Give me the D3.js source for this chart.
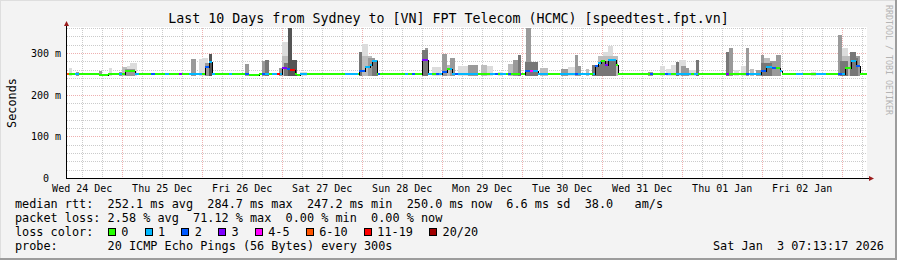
<!DOCTYPE html>
<html>
<head>
<meta charset="utf-8">
<script src="https://cdn.jsdelivr.net/npm/d3@7"></script>
<style>
  body { margin: 0; background: #f3f3f3; }
  svg text { font-family: 'DejaVu Sans Mono', monospace; white-space: pre; }
</style>
</head>
<body>
<script>
// time is hours since graph start (Wed 24 Dec 07:35 UTC), 10 days wide
const startTime = Date.UTC(2025, 11, 24, 7, 35);
const spanHours = 240;
const baselineMs = 250;

// [from h, to h, median ms] where median is off the usual ~250 ms
const medianSegs = [
  [9.6, 12.3, 247], [17.4, 20.4, 257], [41.4, 42.6, 266], [42.6, 43.5, 278],
  [54.6, 57.6, 248], [64.5, 66, 264], [66, 66.9, 262], [66.9, 68.4, 259],
  [69, 69.9, 248], [87.6, 89.4, 256], [89.4, 90.9, 266], [90.9, 91.5, 272],
  [91.5, 93, 280], [106.5, 108.3, 283], [112.5, 114, 254], [114, 115.5, 262],
  [137.4, 141.3, 256], [158.4, 159.3, 270], [159.3, 160.2, 275], [160.2, 161.4, 280],
  [161.4, 162.3, 272], [162.3, 164.7, 283], [164.7, 165.3, 272],
  [208.2, 209.7, 258], [209.7, 211.5, 266], [211.5, 213.9, 264], [213.9, 214.5, 258],
  [233.4, 235.2, 264], [235.2, 236.7, 280], [236.7, 237.9, 270]
];

// [from h, to h, lost pings of 20]
const lossSegs = [
  [0, 0.6, 8], [2.4, 3.6, 1], [15.6, 16.5, 1], [20.4, 21.6, 1], [25.2, 26.4, 2],
  [29.4, 30.6, 1], [33.6, 34.5, 3], [36.6, 40.5, 1], [41.4, 42.6, 2], [42.6, 44.4, 1],
  [48.6, 49.5, 1], [53.4, 54.6, 2], [58.5, 59.4, 2], [59.4, 60.6, 1], [61.5, 63, 1],
  [63, 63.9, 14], [63.9, 64.5, 1], [64.5, 66, 3], [66, 66.9, 2], [66.9, 68.4, 14],
  [69.9, 72, 1], [83.4, 87.3, 1], [87.6, 89.4, 2], [89.4, 93, 1], [93.3, 93.9, 2],
  [101.4, 102.3, 1], [103.5, 104.4, 2], [106.5, 108.3, 3], [108.3, 109.5, 1],
  [110.7, 111.6, 2], [111.6, 112.5, 1], [112.5, 114, 2], [114.9, 116.4, 1],
  [116.4, 117.3, 2], [117.3, 123.3, 1], [126.9, 128.4, 1], [128.4, 129.3, 2],
  [129.9, 131.7, 1], [132.3, 133.2, 2], [135.9, 136.2, 3], [137.4, 138.9, 2],
  [138.9, 139.8, 5], [139.8, 144.3, 1], [147.9, 152.4, 1], [152.4, 153.3, 2],
  [153.3, 156.9, 1], [157.8, 158.4, 1], [158.4, 159.3, 2], [159.3, 160.2, 1],
  [161.4, 162.3, 3], [162.3, 164.7, 1], [174.9, 175.8, 2], [179.4, 180.3, 2],
  [180.3, 181.2, 1], [182.7, 187.2, 1], [188.1, 189.3, 1], [197.7, 198.6, 3],
  [203.7, 204.6, 2], [204.6, 208.2, 1], [208.2, 209.7, 2], [209.7, 211.5, 1],
  [211.5, 212.7, 2], [213.9, 214.5, 1], [218.7, 220.8, 1], [224.7, 227.7, 1],
  [231.3, 232.5, 2], [232.5, 233.4, 1], [235.2, 236.7, 1], [236.7, 237.9, 2]
];

// smoke: [from h, to h, top ms, shade 1 light .. 5 dark]
const smoke = [
  [0.6, 1.5, 264, 1], [2.7, 3.6, 254, 3], [9.6, 10.5, 258, 3], [12.6, 13.5, 264, 1],
  [15.6, 16.5, 254, 3], [16.5, 18, 267, 2], [18, 18.9, 270, 1], [18.9, 21, 276, 1],
  [17.4, 20.4, 262, 3], [37.2, 38.7, 285, 3], [39.6, 40.5, 285, 1], [40.5, 42.3, 287, 1],
  [41.4, 43.5, 277, 3], [42.6, 43.5, 298, 5], [53.4, 54.6, 273, 3], [58.5, 59.7, 280, 3],
  [59.4, 60.6, 283, 4], [63.6, 64.5, 264, 3], [64.5, 66.3, 326, 1], [64.5, 66.3, 292, 2],
  [65.1, 67.5, 277, 4], [66.3, 67.5, 359, 5], [67.5, 69, 283, 5], [69.9, 72, 254, 1],
  [87.6, 88.5, 302, 4], [88.5, 90.3, 322, 1], [88.5, 91.5, 292, 2], [90.3, 92.4, 287, 3],
  [91.5, 93.3, 284, 4], [106.5, 108.3, 307, 4], [107.4, 108.3, 312, 3], [109.5, 112.2, 267, 1],
  [112.5, 114, 298, 3], [114, 114.9, 272, 2], [114.9, 116.4, 287, 3], [117.3, 120.9, 270, 1],
  [120.3, 123.3, 271, 3], [124.2, 126, 271, 2], [126, 127.8, 268, 1], [129.3, 130.8, 254, 1],
  [132.3, 133.8, 274, 2], [133.8, 135.3, 283, 3], [135.3, 136.2, 295, 4], [137.7, 139.2, 360, 3],
  [137.4, 141.3, 278, 4], [141.9, 144.3, 264, 2], [148.2, 150.3, 262, 3], [150.3, 152.4, 267, 1],
  [152.4, 153.3, 295, 3], [153.3, 154.2, 270, 3], [155.7, 156.6, 262, 2], [157.5, 159.9, 272, 4],
  [160.8, 162.3, 302, 1], [162.3, 163.8, 316, 1], [159.3, 165.3, 292, 2], [159.9, 164.7, 282, 4],
  [174.3, 175.8, 254, 3], [177.9, 179.4, 270, 1], [179.7, 181.2, 262, 1], [181.2, 182.7, 271, 1],
  [182.7, 183.6, 278, 4], [183.6, 185.7, 283, 1], [184.2, 185.7, 270, 3], [185.7, 186.6, 264, 3],
  [186.6, 188.7, 260, 1], [188.7, 189.6, 283, 4], [197.7, 198.6, 302, 4], [198.6, 199.8, 311, 3],
  [200.1, 201.6, 260, 1], [202.2, 203.7, 270, 1], [203.7, 204.6, 311, 3], [204.9, 206.1, 262, 2],
  [206.7, 208.2, 260, 3], [208.2, 209.1, 295, 3], [209.1, 210.9, 289, 2], [208.2, 211.5, 277, 4],
  [210.9, 212.7, 282, 3], [212.7, 214.2, 295, 3], [223.2, 224.7, 254, 1], [231.3, 232.5, 343, 3],
  [232.5, 234.3, 313, 1], [231.3, 234.9, 292, 2], [231.9, 234.3, 280, 4], [234.9, 236.7, 302, 4],
  [236.7, 237.9, 292, 3], [235.5, 237.3, 287, 4]
];
const smokeFloor = 245;
const shadeColors = ['#dcdcdc', '#bdbdbd', '#9a9a9a', '#777777', '#555555'];

const lossLabels = ['0', '1', '2', '3', '4-5', '6-10', '11-19', '20/20'];
const lossUpper = [0, 1, 2, 3, 5, 10, 19, 20];
const lossColors = ['#26ff00', '#00b8ff', '#0059ff', '#7e00ff', '#ff00ff', '#ff5500', '#ff0000', '#a10000'];

const yTicks = [0, 100, 200, 300];
const legendLines = [
  'median rtt:  252.1 ms avg  284.7 ms max  247.2 ms min  250.0 ms now  6.6 ms sd  38.0   am/s',
  'packet loss: 2.58 % avg  71.12 % max  0.00 % min  0.00 % now',
  'loss color:',
  'probe:       20 ICMP Echo Pings (56 Bytes) every 300s'
];
const stamp = 'Sat Jan  3 07:13:17 2026';
const title = 'Last 10 Days from Sydney to [VN] FPT Telecom (HCMC) [speedtest.fpt.vn]';

const width = 897, height = 260;
const plotL = 67, plotR = 867, plotT = 28, plotB = 178;
const legendFont = 11.84, charW = legendFont * 0.602;

const svg = d3.select('body').append('svg')
  .attr('width', width)
  .attr('height', height);

const t = h => new Date(startTime + h * 3600e3);
const x = d3.scaleUtc().domain([t(0), t(spanHours)]).range([plotL, plotR]);
const y = d3.scaleLinear().domain([0, 360]).range([plotB, plotT]);

// frame
svg.append('rect').attr('width', width).attr('height', height).attr('fill', '#f3f3f3');
svg.append('path').attr('d', `M0,0.5H${width}M0.5,0V${height}`).attr('stroke', '#dedede').attr('stroke-width', 1);
svg.append('path').attr('d', `M0,${height - 1}H${width}M${width - 1},0V${height}`).attr('stroke', '#9c9c9c').attr('stroke-width', 2);

svg.append('rect')
  .attr('x', plotL).attr('y', plotT - 1)
  .attr('width', plotR - plotL).attr('height', plotB - plotT + 1)
  .attr('fill', '#fff');

// grid
const grid = svg.append('g').attr('shape-rendering', 'crispEdges').attr('stroke-dasharray', '1,1');
const hourTicks = x.ticks(d3.utcHour.every(6));
grid.selectAll('.vg').data(hourTicks).join('line')
  .attr('x1', d => Math.round(x(d)) + 0.5).attr('x2', d => Math.round(x(d)) + 0.5)
  .attr('y1', plotT).attr('y2', plotB)
  .attr('stroke', d => d.getUTCHours() === 0 ? '#eeb0b0' : '#cbcbcb');
grid.selectAll('.hg').data(d3.range(20, 361, 20)).join('line')
  .attr('x1', plotL).attr('x2', plotR)
  .attr('y1', d => Math.round(y(d)) + 0.5).attr('y2', d => Math.round(y(d)) + 0.5)
  .attr('stroke', d => d % 100 === 0 ? '#eeb0b0' : '#cbcbcb');

// smoke
svg.append('g').attr('shape-rendering', 'crispEdges')
  .selectAll('rect')
  .data(smoke.slice().sort((a, b) => a[3] - b[3]))
  .join('rect')
  .attr('x', d => x(t(d[0])))
  .attr('width', d => Math.max(1, x(t(d[1])) - x(t(d[0]))))
  .attr('y', d => y(d[2]))
  .attr('height', d => y(smokeFloor) - y(d[2]))
  .attr('fill', d => shadeColors[d[3] - 1]);

// median pieces
const cuts = Array.from(new Set([0, spanHours, ...medianSegs.flatMap(d => [d[0], d[1]]), ...lossSegs.flatMap(d => [d[0], d[1]])])).sort((a, b) => a - b);
const pieces = [];
for (let i = 0; i < cuts.length - 1; i++) {
  const a = cuts[i], b = cuts[i + 1], mid = (a + b) / 2;
  const m = medianSegs.find(d => d[0] <= mid && mid < d[1]);
  const l = lossSegs.find(d => d[0] <= mid && mid < d[1]);
  const lost = l ? l[2] : 0;
  pieces.push({ a, b, ms: m ? m[2] : baselineMs, bucket: lossUpper.findIndex(u => lost <= u) });
}

const stepPts = pieces.map(p => [p.a, p.ms]).concat([[spanHours, pieces[pieces.length - 1].ms]]);
svg.append('path')
  .attr('d', d3.line().x(d => x(t(d[0]))).y(d => Math.round(y(d[1]))).curve(d3.curveStepAfter)(stepPts))
  .attr('fill', 'none').attr('stroke', '#000').attr('stroke-width', 1)
  .attr('shape-rendering', 'crispEdges');

svg.append('g').attr('shape-rendering', 'crispEdges')
  .selectAll('line').data(pieces).join('line')
  .attr('x1', d => x(t(d.a))).attr('x2', d => x(t(d.b)))
  .attr('y1', d => Math.round(y(d.ms))).attr('y2', d => Math.round(y(d.ms)))
  .attr('stroke', d => lossColors[d.bucket]).attr('stroke-width', 2);

// axes
svg.append('path')
  .attr('d', `M${plotL - 0.5},${plotB + 0.5}H${plotR + 4}M${plotL - 0.5},${plotB + 0.5}V${plotT - 2}`)
  .attr('stroke', '#000').attr('fill', 'none').attr('shape-rendering', 'crispEdges');
svg.append('path').attr('d', `M${plotL - 0.5},${plotT - 7}L${plotL - 3},${plotT - 2}L${plotL + 2},${plotT - 2}Z`).attr('fill', '#9b1c1c');
svg.append('path').attr('d', `M${plotR + 7},${plotB + 0.5}L${plotR + 2},${plotB - 2}L${plotR + 2},${plotB + 3}Z`).attr('fill', '#9b1c1c');

const noons = d3.utcDay.range(d3.utcDay.floor(t(0)), t(spanHours)).map(d => d3.utcHour.offset(d, 12)).filter(d => d >= t(0) && d <= t(spanHours));
const xAxis = svg.append('g').attr('transform', `translate(0,${plotB})`)
  .call(d3.axisBottom(x).tickValues(noons).tickFormat(d3.utcFormat('%a %d %b')).tickSize(0));
xAxis.select('.domain').remove();
xAxis.selectAll('text').attr('y', 13.5).attr('dy', null).attr('font-size', 10).attr('fill', '#000');

const yAxis = svg.append('g').attr('transform', 'translate(61,0)')
  .call(d3.axisLeft(y).tickValues(yTicks).tickFormat(d => d === 0 ? '0  ' : d + ' m').tickSize(0).tickPadding(0));
yAxis.select('.domain').remove();
yAxis.selectAll('text').attr('x', 0).attr('dy', '0.35em').attr('font-size', 10).attr('fill', '#000');

// titles
svg.append('text').attr('x', 448.5).attr('y', 22.5).attr('text-anchor', 'middle')
  .attr('font-size', 13.3).text(title);
svg.append('text').attr('transform', 'translate(16,103) rotate(-90)').attr('text-anchor', 'middle')
  .attr('font-size', legendFont).text('Seconds');
svg.append('text').attr('transform', 'translate(885.5,60) rotate(90)').attr('text-anchor', 'middle')
  .attr('font-size', 8.3).attr('fill', '#b4b4b4').text('RRDTOOL / TOBI OETIKER');

// legend
const legendY = [208, 222, 236, 250];
svg.append('g').selectAll('text').data(legendLines).join('text')
  .attr('x', 15).attr('y', (d, i) => legendY[i])
  .attr('font-size', legendFont).text(d => d);
svg.append('text').attr('x', 713).attr('y', 250).attr('font-size', legendFont).text(stamp);

// loss colour boxes: box, label, then a gap before the next box
const boxX = [];
let bx = 108;
lossLabels.forEach(l => { boxX.push(bx); bx += 13.3 + l.length * charW + 16.3; });
const lg = svg.append('g').selectAll('g').data(lossLabels).join('g')
  .attr('transform', (d, i) => `translate(${boxX[i]},228)`);
lg.append('rect').attr('x', 0.5).attr('y', 0.5).attr('width', 7).attr('height', 7)
  .attr('fill', (d, i) => lossColors[i]).attr('stroke', '#000').attr('shape-rendering', 'crispEdges');
lg.append('text').attr('x', 13.3).attr('y', 8).attr('font-size', legendFont).text(d => d);
</script>
</body>
</html>
